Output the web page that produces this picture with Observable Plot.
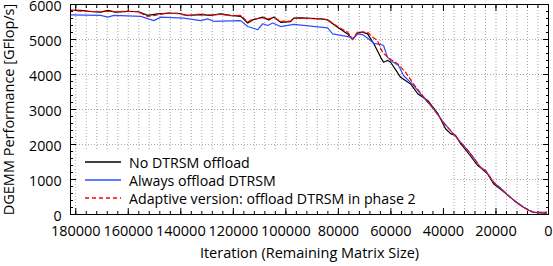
<!DOCTYPE html>
<html><head><meta charset="utf-8">
<script src="https://cdn.jsdelivr.net/npm/d3@7"></script>
<script src="https://cdn.jsdelivr.net/npm/@observablehq/plot@0.6"></script>
<style>
body{margin:0;background:#fff;}
#wrap{position:relative;width:553px;height:266px;}
.leg{position:absolute;left:85px;font:14.2px "Open Sans";display:flex;align-items:center;height:18px;white-space:nowrap;color:#000}
.leg svg{width:36px;height:4px;margin-right:8px;display:block}
</style></head>
<body><div id="wrap"></div>
<script>
const seriesNames = ["No DTRSM offload", "Always offload DTRSM", "Adaptive version: offload DTRSM in phase 2"];
const seriesColors = ["#000000", "#2f4fff", "#ff0000"];

const iterNo = [181900,178100,174300,170500,167800,164800,160200,156400,152600,148800,145000,141200,137400,132400,128600,124800,121000,117200,114500,112600,108800,106500,104600,102000,98200,97000,94400,86800,84100,80300,76500,74600,72700,70800,68900,66600,63900,62800,61300,60100,56300,52500,49800,46000,42200,39200,37300,35400,33500,30000,27000,25900,23200,20900,17500,14500,12000,9500,7500,5700,3000,760];
const perfNo = [5830,5830,5800,5780,5830,5780,5800,5800,5690,5730,5750,5750,5690,5710,5690,5730,5690,5660,5470,5560,5640,5560,5640,5490,5510,5610,5620,5590,5560,5350,5160,5000,5180,5210,5160,4890,4490,4350,4400,4350,3920,3730,3450,3260,2890,2450,2310,2260,2030,1700,1400,1340,1160,880,680,490,340,210,120,60,45,40];

const iterAlways = [181900,170500,167800,165500,155200,150300,147600,138900,132400,129800,127500,117200,114500,110700,108800,106900,105000,102000,97000,84100,82200,75300,74600,72700,70800,67700,66600,63900,62800,61300,60100,57100,55200,51400,47600,43800,40000,33500,29700,25900,24000,20900,17500,14500,12000,9500,7500,5700,3000,760];
const perfAlways = [5705,5690,5640,5690,5660,5540,5640,5610,5540,5590,5520,5540,5370,5280,5450,5400,5470,5370,5430,5330,5160,5070,5000,5160,5140,4970,4890,4860,4830,4490,4400,4260,3970,3690,3350,3020,2630,2070,1740,1350,1260,920,700,490,330,210,120,65,60,65];

const iterAdaptive = [181900,178100,174300,170500,167800,164800,160200,156400,152600,148800,145000,141200,137400,132400,128600,124800,121000,117200,114500,112600,108800,106500,104600,102000,98200,97000,94400,86800,84100,80300,76500,74600,72700,70400,68900,67000,65100,63900,62800,60100,57500,54400,51400,47600,43800,40000,33500,29700,25900,24000,20900,17500,14500,12000,9500,7500,5700,3000,760];
const perfAdaptive = [5840,5810,5800,5790,5810,5790,5810,5790,5660,5700,5760,5740,5680,5730,5700,5720,5680,5690,5500,5580,5620,5590,5630,5520,5530,5600,5610,5590,5570,5370,5210,5020,5210,5210,5210,5070,4970,4740,4600,4430,4310,4060,3730,3370,3020,2630,2070,1740,1350,1260,920,700,490,330,210,120,65,60,65];

const xMajorTicks = [180000,160000,140000,120000,100000,80000,60000,40000,20000,0];
const xMinorTicks = d3.range(0, 180001, 4000);
const yMajorTicks = [0,1000,2000,3000,4000,5000,6000];
const yMinorTicks = d3.range(0, 6001, 200);
const xTitle = "Iteration (Remaining Matrix Size)";
const yTitle = "DGEMM Performance [GFlop/s]";

const toRows = (xs, ys) => xs.map((x, i) => ({x, y: ys[i]}));
const dNo = toRows(iterNo, perfNo);
const dAlways = toRows(iterAlways, perfAlways);
const dAdaptive = toRows(iterAdaptive, perfAdaptive);

const gridStyle = {stroke: "#a8a8a8", strokeOpacity: 1, strokeDasharray: "1,2", strokeWidth: 1};
const blank = () => "";

const chart = Plot.plot({
  width: 553, height: 266,
  marginLeft: 70, marginRight: 5, marginTop: 4, marginBottom: 52,
  style: {fontFamily: "Open Sans", fontSize: "14px", color: "black", background: "white"},
  x: {domain: [182000, 0]},
  y: {domain: [0, 6000]},
  marks: [
    Plot.gridX(xMinorTicks, gridStyle),
    Plot.gridY(yMajorTicks, gridStyle),
    Plot.frame({fill: "white", stroke: null, insetLeft: 6, insetRight: 98, insetTop: 146}),
    Plot.axisX(xMajorTicks, {anchor: "bottom", tickSize: 0, tickPadding: 11, tickFormat: "d", label: null, fontSize: 14.5}),
    Plot.axisY(yMajorTicks, {anchor: "left", tickSize: 0, tickPadding: 9, dy: 1.5, tickFormat: "d", label: null, fontSize: 14.2}),
    Plot.axisX(xMajorTicks, {anchor: "bottom", tickSize: -6, tickFormat: blank, label: null}),
    Plot.axisX(xMajorTicks, {anchor: "top", tickSize: -6, tickFormat: blank, label: null}),
    Plot.axisX(xMinorTicks, {anchor: "bottom", tickSize: -3, tickFormat: blank, label: null}),
    Plot.axisX(xMinorTicks, {anchor: "top", tickSize: -3, tickFormat: blank, label: null}),
    Plot.axisY(yMajorTicks, {anchor: "left", tickSize: -6, tickFormat: blank, label: null}),
    Plot.axisY(yMajorTicks, {anchor: "right", tickSize: -6, tickFormat: blank, label: null}),
    Plot.axisY(yMinorTicks, {anchor: "left", tickSize: -3, tickFormat: blank, label: null}),
    Plot.axisY(yMinorTicks, {anchor: "right", tickSize: -3, tickFormat: blank, label: null}),
    Plot.text([xTitle], {frameAnchor: "bottom", dy: 43, text: d => d, fontSize: 14.5}),
    Plot.text([yTitle], {frameAnchor: "left", rotate: -90, dx: -61, textAnchor: "middle", text: d => d, fontSize: 14.5}),
    Plot.line(dNo, {x: "x", y: "y", stroke: seriesColors[0], strokeWidth: 1.2}),
    Plot.line(dAlways, {x: "x", y: "y", stroke: seriesColors[1], strokeWidth: 1.2}),
    Plot.line(dAdaptive, {x: "x", y: "y", stroke: seriesColors[2], strokeWidth: 1.2, strokeDasharray: "4,3"}),
    Plot.frame({stroke: "black", strokeWidth: 1})
  ]
});
const wrap = document.getElementById("wrap");
wrap.appendChild(chart);
const rowTops = [153, 171, 189];
seriesNames.forEach((name, i) => {
  const div = document.createElement("div");
  div.className = "leg";
  div.style.top = rowTops[i] + "px";
  const dash = i === 2 ? ' stroke-dasharray="4,3"' : '';
  div.innerHTML = `<svg viewBox="0 0 36 4"><line x1="0" y1="2" x2="36" y2="2" stroke="${seriesColors[i]}" stroke-width="1.3"${dash}/></svg><span>${name}</span>`;
  wrap.appendChild(div);
});
</script></body></html>
